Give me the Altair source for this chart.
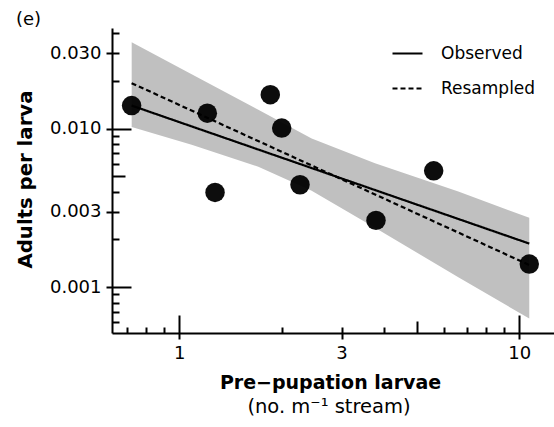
import altair as alt
import pandas as pd

# ---------------- data ----------------
larvae = [0.724, 1.209, 1.274, 1.852, 2.001, 2.265, 3.789, 5.60, 10.70]
adults_per_larva = [0.0140, 0.01253, 0.00396, 0.0164, 0.0101, 0.00443, 0.00264, 0.00542, 0.00140]

fit_x = [0.724, 10.70]
observed_fit = [0.0140, 0.001884]
resampled_fit = [0.01939, 0.00138]

band_x = [0.7244, 1.0874, 1.708, 2.451, 3.764, 6.617, 10.70]
band_upper = [0.03516, 0.02208, 0.01315, 0.008664, 0.006045, 0.004023, 0.002740]
band_lower = [0.010247, 0.007910, 0.005763, 0.004062, 0.002373, 0.001155, 0.000634]

series_names = ["Observed", "Resampled"]

x_labeled = [1, 3, 10]
y_labeled = [0.001, 0.003, 0.01, 0.03]
x_major = [1, 10]
x_mid = [5]
x_minor = [0.7, 0.8, 0.9, 2, 3, 4, 6, 7, 8, 9]
y_major = [0.001, 0.01]
y_mid = [0.005]
y_minor = [0.0006, 0.0007, 0.0008, 0.0009, 0.002, 0.003, 0.004,
           0.006, 0.007, 0.008, 0.009, 0.02, 0.03, 0.04]

x_title = "Pre\u2212pupation larvae"
x_subtitle = ["(no. m\u207b\u00b9 stream)"]
y_title = "Adults per larva"
panel_label = ["(e)"]

# ---------------- tables ----------------
points_df = pd.DataFrame({"x": larvae, "y": adults_per_larva})
band_df = pd.DataFrame({"x": band_x, "lo": band_lower, "hi": band_upper})
fit_df = pd.DataFrame({
    "x": fit_x + fit_x,
    "y": observed_fit + resampled_fit,
    "series": [series_names[0]] * 2 + [series_names[1]] * 2,
})

W, H = 442, 305
FONT = "DejaVu Sans"

xscale = alt.Scale(type="log", domain=[0.634, 12.65], nice=False)
yscale = alt.Scale(type="log", domain=[0.000514, 0.0432], nice=False)

x_axis_main = alt.Axis(
    values=x_labeled, format="~g", tickSize=6, tickWidth=2, tickColor="black",
    domainColor="black", domainWidth=2, labelFontSize=18, labelColor="black",
    labelFont=FONT, labelPadding=5, grid=False, labelFlush=False, labelOverlap=False,
    title=x_title, titleFont=FONT, titleFontSize=19, titleFontWeight="bold",
    titleColor="black", titleX=218, titleY=55, titleAlign="center",
    titleBaseline="alphabetic", zindex=1,
)
y_axis_main = alt.Axis(
    values=y_labeled, format=".3f", tickSize=6, tickWidth=2, tickColor="black",
    domainColor="black", domainWidth=2, labelFontSize=18, labelColor="black",
    labelFont=FONT, labelPadding=5, grid=False, labelFlush=False, labelOverlap=False,
    title=y_title, titleFont=FONT, titleFontSize=19.7, titleFontWeight="bold",
    titleColor="black", titleX=-87, titleY=151, titleAngle=270,
    titleAlign="center", titleBaseline="middle", zindex=1,
)

band = alt.Chart(band_df).mark_area(color="#c0c0c0").encode(
    x=alt.X("x:Q", scale=xscale, axis=x_axis_main),
    y=alt.Y("lo:Q", scale=yscale, axis=y_axis_main),
    y2="hi:Q",
)

lines = alt.Chart(fit_df).mark_line(color="black", strokeWidth=2.2).encode(
    x=alt.X("x:Q", scale=xscale, axis=None),
    y=alt.Y("y:Q", scale=yscale, axis=None),
    strokeDash=alt.StrokeDash(
        "series:N",
        scale=alt.Scale(domain=series_names, range=[[1, 0], [5, 3]]),
        legend=alt.Legend(
            title=None, orient="none", legendX=279, legendY=9, padding=0,
            symbolType="stroke", symbolSize=900, symbolStrokeWidth=2.2,
            symbolStrokeColor="black", labelFontSize=17, labelFont=FONT,
            labelColor="black", labelOffset=17, rowPadding=10,
        ),
    ),
)

points = alt.Chart(points_df).mark_circle(size=380, color="black", opacity=0.95).encode(
    x=alt.X("x:Q", scale=xscale, axis=None),
    y=alt.Y("y:Q", scale=yscale, axis=None),
)


def tick_layer(xvals, yvals, size):
    return alt.Chart(points_df).mark_point(opacity=0).encode(
        x=alt.X("x:Q", scale=xscale, axis=alt.Axis(
            orient="top", offset=-H, values=xvals, tickSize=size, tickWidth=2,
            tickColor="black", labels=False, domain=False, grid=False, title=None,
            zindex=1)),
        y=alt.Y("y:Q", scale=yscale, axis=alt.Axis(
            orient="right", offset=-W, values=yvals, tickSize=size + 1, tickWidth=2,
            tickColor="black", labels=False, domain=False, grid=False, title=None,
            zindex=1)),
    )


ticks_long = tick_layer(x_major, y_major, 18)
ticks_mid = tick_layer(x_mid, y_mid, 12)
ticks_short = tick_layer(x_minor, y_minor, 6)

label_e = alt.Chart(pd.DataFrame({"t": panel_label})).mark_text(
    align="left", baseline="middle", fontSize=18, font=FONT, color="black"
).encode(text="t:N", x=alt.value(-96), y=alt.value(-8))

sub = alt.Chart(pd.DataFrame({"t": x_subtitle})).mark_text(
    align="center", baseline="alphabetic", fontSize=19.5, font=FONT, color="black"
).encode(text="t:N", x=alt.value(217), y=alt.value(385))

chart = alt.layer(
    band, lines, points, ticks_long, ticks_mid, ticks_short, label_e, sub
).resolve_axis(x="independent", y="independent").properties(
    width=W, height=H,
    autosize=alt.AutoSizeParams(type="none"),
    padding={"left": 112, "top": 28, "right": 0, "bottom": 94},
    background="white",
).configure_view(stroke=None)

chart.save("out.html", embed_options={"renderer": "svg", "actions": False})
